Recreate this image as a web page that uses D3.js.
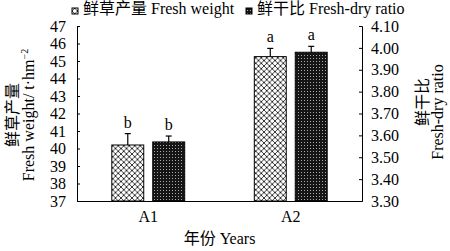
<!DOCTYPE html>
<html>
<head>
<meta charset="utf-8">
<script src="https://cdn.jsdelivr.net/npm/d3@7"></script>
<style>
  body { margin: 0; background: #fff; }
  text { font-family: "Liberation Serif", "Noto Sans CJK SC", serif; fill: #000; }
</style>
</head>
<body>
<div id="chart"></div>
<script>
// Datos
var categories = ["A1", "A2"];
var freshWeight = [40.2, 45.25];
var freshWeightErr = [0.65, 0.47];
var freshDry = [3.57, 3.98];
var freshDryErr = [0.027, 0.027];
var letters = ["b", "a"];
var leftTicks = [37, 38, 39, 40, 41, 42, 43, 44, 45, 46, 47];
var rightTicks = [3.30, 3.40, 3.50, 3.60, 3.70, 3.80, 3.90, 4.00, 4.10];

var width = 450;
var height = 251;
var margin = { top: 26, right: 88, bottom: 50, left: 77 };

var svg = d3.select("#chart")
    .append("svg")
    .attr("width", width)
    .attr("height", height);

// patrones de relleno
var defs = svg.append("defs");

var cross = defs.append("pattern")
    .attr("id", "cross")
    .attr("patternUnits", "userSpaceOnUse")
    .attr("width", 5.5)
    .attr("height", 5.5);
cross.append("rect").attr("width", 5.5).attr("height", 5.5).attr("fill", "#fff");
cross.append("path")
    .attr("d", "M0,0L5.5,5.5M5.5,0L0,5.5")
    .attr("stroke", "#222")
    .attr("stroke-width", 0.9);

var dots = defs.append("pattern")
    .attr("id", "dots")
    .attr("patternUnits", "userSpaceOnUse")
    .attr("width", 3)
    .attr("height", 3);
dots.append("rect").attr("width", 3).attr("height", 3).attr("fill", "#151515");
dots.append("rect").attr("x", 1).attr("y", 1).attr("width", 1).attr("height", 1).attr("fill", "#aaa");

// escalas
var x = d3.scaleBand()
    .domain(categories)
    .range([margin.left, width - margin.right])
    .padding(0);

var inner = d3.scaleBand()
    .domain(["fw", "fd"])
    .range([0, x.bandwidth()])
    .paddingInner(0.22)
    .paddingOuter(0.85);

var yLeft = d3.scaleLinear()
    .domain([37, 47])
    .range([height - margin.bottom, margin.top]);

var yRight = d3.scaleLinear()
    .domain([3.30, 4.10])
    .range([height - margin.bottom, margin.top]);

// ejes
var gLeft = svg.append("g")
    .attr("transform", "translate(" + margin.left + ",0)")
    .call(d3.axisLeft(yLeft).tickValues(leftTicks).tickSize(-3).tickSizeOuter(-3).tickPadding(11));

var gRight = svg.append("g")
    .attr("transform", "translate(" + (width - margin.right) + ",0)")
    .call(d3.axisRight(yRight).tickValues(rightTicks).tickFormat(d3.format(".2f"))
        .tickSize(-3).tickSizeOuter(-3).tickPadding(9));

var gBottom = svg.append("g")
    .attr("transform", "translate(0," + (height - margin.bottom) + ")")
    .call(d3.axisBottom(x).tickSize(0).tickSizeOuter(0).tickPadding(10));

[gLeft, gRight, gBottom].forEach(function (g) {
    g.attr("font-family", null).attr("font-size", 16);
    g.selectAll("path, line").attr("stroke", "#000").attr("stroke-width", 1);
});

// barras
var rows = categories.map(function (c, i) {
    return [
        { cat: c, key: "fw", value: freshWeight[i], err: freshWeightErr[i], y: yLeft, fill: "url(#cross)", letter: letters[i] },
        { cat: c, key: "fd", value: freshDry[i], err: freshDryErr[i], y: yRight, fill: "url(#dots)", letter: letters[i] }
    ];
});
var bars = [].concat.apply([], rows);

svg.append("g")
    .selectAll("rect")
    .data(bars)
    .enter()
    .append("rect")
    .attr("x", (d) => x(d.cat) + inner(d.key))
    .attr("y", (d) => d.y(d.value))
    .attr("width", inner.bandwidth())
    .attr("height", (d) => d.y.range()[0] - d.y(d.value))
    .attr("fill", (d) => d.fill)
    .attr("stroke", "#000")
    .attr("stroke-width", 1);

// barras de error (solo hacia arriba)
var err = svg.append("g").attr("stroke", "#000").attr("stroke-width", 1.2);
bars.forEach(function (d) {
    var cx = x(d.cat) + inner(d.key) + inner.bandwidth() / 2;
    err.append("line")
        .attr("x1", cx).attr("x2", cx)
        .attr("y1", d.y(d.value)).attr("y2", d.y(d.value + d.err));
    err.append("line")
        .attr("x1", cx - 3).attr("x2", cx + 3)
        .attr("y1", d.y(d.value + d.err)).attr("y2", d.y(d.value + d.err));
});

// letras de significancia
svg.append("g")
    .selectAll("text")
    .data(bars)
    .enter()
    .append("text")
    .attr("x", (d) => x(d.cat) + inner(d.key) + inner.bandwidth() / 2)
    .attr("y", (d) => d.y(d.value + d.err) - 6)
    .attr("text-anchor", "middle")
    .attr("font-size", 16)
    .text((d) => d.letter);

// leyenda
var legendItems = [
    { label: "鲜草产量 Fresh weight", fill: "url(#cross)", x: 72 },
    { label: "鲜干比 Fresh-dry ratio", fill: "url(#dots)", x: 246 }
];
var legend = svg.append("g")
    .selectAll("g")
    .data(legendItems)
    .enter()
    .append("g")
    .attr("transform", (d) => "translate(" + d.x + ",0)");
legend.append("rect")
    .attr("x", 0).attr("y", 8)
    .attr("width", 6).attr("height", 6)
    .attr("fill", (d) => d.fill)
    .attr("stroke", "#000");
legend.append("text")
    .attr("x", 11).attr("y", 14)
    .attr("font-size", 16)
    .text((d) => d.label);

// titulos de ejes
var leftTitle = svg.append("text")
    .attr("transform", "translate(0,115) rotate(-90)")
    .attr("text-anchor", "middle")
    .attr("font-size", 16);
leftTitle.append("tspan").attr("x", 0).attr("y", 18).text("鲜草产量");
leftTitle.append("tspan").attr("x", 0).attr("y", 34).text("Fresh weight/ t·hm");
leftTitle.append("tspan").attr("dy", -6).attr("font-size", 10).text("−2");

svg.append("text")
    .attr("transform", "translate(428,102) rotate(-90)")
    .attr("text-anchor", "middle")
    .attr("font-size", 16)
    .text("鲜干比");
svg.append("text")
    .attr("transform", "translate(443,112) rotate(-90)")
    .attr("text-anchor", "middle")
    .attr("font-size", 16)
    .text("Fresh-dry ratio");

svg.append("text")
    .attr("x", (margin.left + width - margin.right) / 2)
    .attr("y", 244)
    .attr("text-anchor", "middle")
    .attr("font-size", 16)
    .text("年份 Years");
</script>
</body>
</html>
